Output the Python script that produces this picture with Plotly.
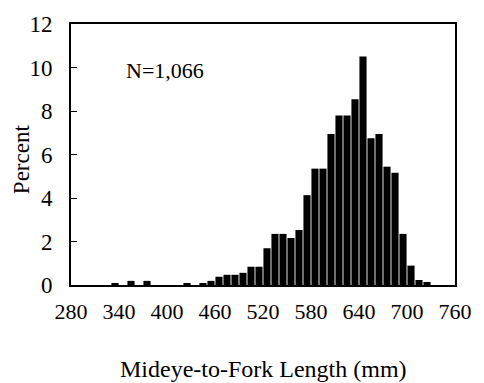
import plotly.graph_objects as go

# Bin midpoints (mm) and percent of fish in each 10-mm bin
length_mm = [335, 345, 355, 365, 375, 385, 395, 405, 415, 425, 435, 445, 455,
             465, 475, 485, 495, 505, 515, 525, 535, 545, 555, 565, 575, 585,
             595, 605, 615, 625, 635, 645, 655, 665, 675, 685, 695, 705, 715, 725]
percent = [0.09, 0.0, 0.19, 0.0, 0.19, 0.0, 0.0, 0.0, 0.0, 0.09, 0.0, 0.09, 0.19,
           0.38, 0.47, 0.47, 0.56, 0.84, 0.84, 1.69, 2.35, 2.35, 2.16, 2.53, 4.13, 5.35,
           5.35, 6.94, 7.79, 7.79, 8.54, 10.51, 6.75, 6.94, 5.44, 5.16, 2.35, 0.89, 0.23, 0.14]

x_ticks = [280, 340, 400, 460, 520, 580, 640, 700, 760]
y_ticks = [0, 2, 4, 6, 8, 10, 12]

FONT = "'Liberation Serif', 'Times New Roman', Times, serif"

fig = go.Figure()
fig.add_trace(go.Bar(
    x=length_mm, y=percent, width=8.9,
    marker=dict(color="black", line=dict(width=0)),
    showlegend=False,
))

fig.update_layout(
    width=484, height=383,
    margin=dict(l=71, r=17, t=21, b=98),
    paper_bgcolor="white", plot_bgcolor="white",
    font=dict(family=FONT, size=23, color="black"),
    xaxis=dict(range=[280, 760], tickvals=x_ticks, ticktext=[str(v) for v in x_ticks],
               showline=True, linecolor="black", linewidth=1.8, mirror=True,
               ticks="", showgrid=False, zeroline=False, ticklabelstandoff=6,
               ticklabeloverflow="allow",
               tickfont=dict(family=FONT, size=22)),
    yaxis=dict(range=[0, 12], tickvals=y_ticks,
               showline=True, linecolor="black", linewidth=1.8, mirror=True,
               ticks="inside", ticklen=6, tickcolor="black", tickwidth=1,
               showgrid=False, zeroline=False, ticklabelstandoff=12,
               ticklabeloverflow="allow",
               tickfont=dict(family=FONT, size=23)),
    annotations=[
        dict(text="Mideye-to-Fork Length (mm)", xref="paper", yref="paper",
             x=0.5, y=-0.32, xanchor="center", yanchor="middle", showarrow=False,
             font=dict(family=FONT, size=24)),
        dict(text="Percent", xref="paper", yref="paper", x=-0.129, y=0.484,
             xanchor="center", yanchor="middle", textangle=-90, showarrow=False,
             font=dict(family=FONT, size=23)),
        dict(text="N=1,066", xref="paper", yref="paper", x=0.137, y=0.82,
             xanchor="left", yanchor="middle", showarrow=False,
             font=dict(family=FONT, size=22)),
    ],
)

fig.write_html("out.html")
